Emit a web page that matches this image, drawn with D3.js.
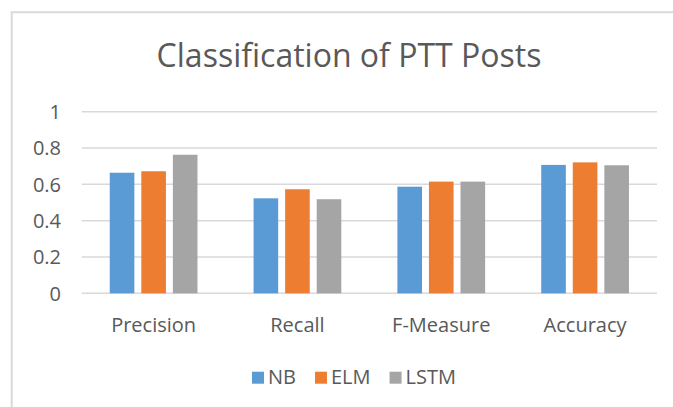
<!DOCTYPE html>
<html>
<head>
<meta charset="utf-8">
<script src="https://d3js.org/d3.v7.min.js"></script>
<style>
    body { margin: 0; background: #fff; }
    svg { display: block; font-family: "Open Sans", sans-serif; }
</style>
</head>
<body>
<svg id="chart" width="673" height="407"></svg>
<script>
// Values
const categories = ["Precision", "Recall", "F-Measure", "Accuracy"];
const seriesNames = ["NB", "ELM", "LSTM"];
const seriesColors = ["#5b9bd5", "#ed7d31", "#a5a5a5"];
const nbValues = [0.664, 0.523, 0.587, 0.707];
const elmValues = [0.672, 0.573, 0.615, 0.721];
const lstmValues = [0.763, 0.518, 0.615, 0.705];
const yTicks = [0, 0.2, 0.4, 0.6, 0.8, 1];
const yTickLabels = ["0", "0.2", "0.4", "0.6", "0.8", "1"];
const chartTitle = "Classification of PTT Posts";

let svg = d3.select("#chart");
const textColor = "#595959";
const gridColor = "#d9d9d9";

let plot = {left: 81.7, right: 657, top: 111.7, bottom: 293.3};

let x0 = d3.scaleBand()
    .domain(categories)
    .range([plot.left, plot.right])
    .paddingInner(0.39)
    .paddingOuter(0.195);

let x1 = d3.scaleBand()
    .domain(seriesNames)
    .range([0, x0.bandwidth()])
    .paddingInner(0.22);

let y = d3.scaleLinear().domain([0, 1]).range([plot.bottom, plot.top]);
let color = d3.scaleOrdinal().domain(seriesNames).range(seriesColors);

// chart area border (only left and top visible in the crop)
svg.append("path")
    .attr("d", "M11.7,407V12.3H673")
    .attr("fill", "none")
    .attr("stroke", gridColor)
    .attr("stroke-width", 2);

svg.append("text")
    .attr("x", 349)
    .attr("y", 66.7)
    .attr("text-anchor", "middle")
    .attr("font-size", 32)
    .attr("fill", textColor)
    .text(chartTitle);

// gridlines
svg.append("g")
    .selectAll("line")
    .data(yTicks)
    .enter()
    .append("line")
    .attr("x1", plot.left)
    .attr("x2", plot.right)
    .attr("y1", d => y(d))
    .attr("y2", d => y(d))
    .attr("stroke", gridColor)
    .attr("stroke-width", 1.5);

svg.append("g")
    .selectAll("text")
    .data(yTicks)
    .enter()
    .append("text")
    .attr("x", 61)
    .attr("y", d => y(d) + 7.2)
    .attr("text-anchor", "end")
    .attr("font-size", 20)
    .attr("fill", textColor)
    .text((d, i) => yTickLabels[i]);

// bars
let rows = categories.map((c, i) => ({
    category: c,
    values: [nbValues[i], elmValues[i], lstmValues[i]].map((v, j) => ({series: seriesNames[j], value: v}))
}));

let groups = svg.append("g")
    .selectAll("g")
    .data(rows)
    .enter()
    .append("g")
    .attr("transform", d => "translate(" + x0(d.category) + ",0)");

groups.selectAll("rect")
    .data(d => d.values)
    .enter()
    .append("rect")
    .attr("x", d => x1(d.series))
    .attr("y", d => y(d.value))
    .attr("width", x1.bandwidth())
    .attr("height", d => y(0) - y(d.value))
    .attr("fill", d => color(d.series));

svg.append("g")
    .selectAll("text")
    .data(categories)
    .enter()
    .append("text")
    .attr("x", d => x0(d) + x0.bandwidth() / 2)
    .attr("y", 331.7)
    .attr("text-anchor", "middle")
    .attr("font-size", 20)
    .attr("fill", textColor)
    .text(d => d);

// legend, centred under the chart
let legend = svg.append("g");
let items = legend.selectAll("g")
    .data(seriesNames)
    .enter()
    .append("g");

items.append("rect")
    .attr("width", 12)
    .attr("height", 12)
    .attr("y", 371.7)
    .attr("fill", d => color(d));

items.append("text")
    .attr("x", 16)
    .attr("y", 384.3)
    .attr("font-size", 20)
    .attr("fill", textColor)
    .text(d => d);

let offset = 0;
let offsets = [];
items.each(function () {
    offsets.push(offset);
    offset += 16 + this.querySelector("text").getComputedTextLength() + 19;
});
let legendWidth = offset - 19;
items.attr("transform", (d, i) => "translate(" + (354 - legendWidth / 2 + offsets[i]) + ",0)");
</script>
</body>
</html>
